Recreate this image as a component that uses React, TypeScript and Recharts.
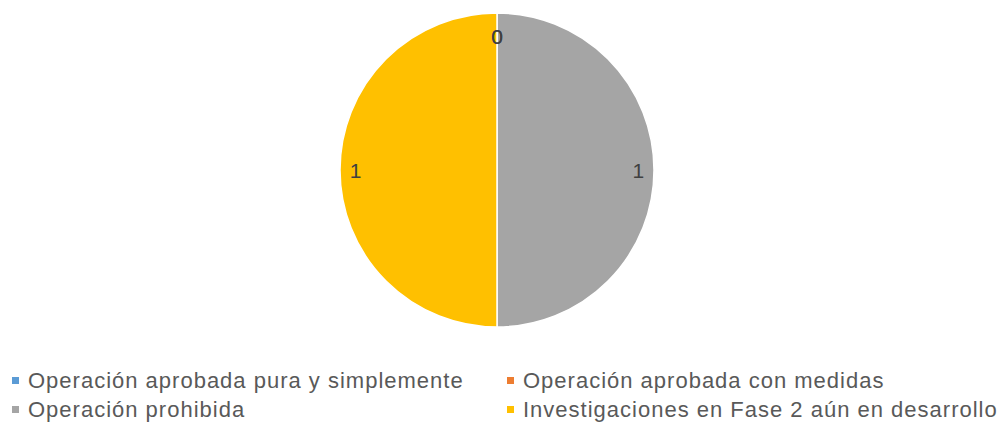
import { PieChart, Pie, Cell, Legend } from "recharts";

const categories = [
  "Operación aprobada pura y simplemente",
  "Operación aprobada con medidas",
  "Operación prohibida",
  "Investigaciones en Fase 2 aún en desarrollo",
];
const values = [0, 0, 1, 1];
const colors = ["#5B9BD5", "#ED7D31", "#A5A5A5", "#FFC000"];

const data = categories.map((name, i) => ({ name, value: values[i] }));

const FONT = "'Liberation Sans', Arial, sans-serif";

function renderLabel(props: any) {
  const { cx, cy, midAngle, outerRadius, value } = props;
  const RAD = Math.PI / 180;
  const r = outerRadius * (value === 0 ? 0.85 : 0.9);
  const x = cx + r * Math.cos(-midAngle * RAD);
  const y = cy + r * Math.sin(-midAngle * RAD);
  return (
    <text x={x} y={y} fill="#404040" fontSize={21} fontFamily={FONT} textAnchor="middle" dominantBaseline="central">
      {value}
    </text>
  );
}

function LegendContent() {
  return (
    <div style={{ display: "grid", gridTemplateColumns: "495px 503px", rowGap: 6, fontFamily: FONT }}>
      {categories.map((c, i) => (
        <div key={c} style={{ display: "flex", alignItems: "center", height: 23, paddingLeft: 12 }}>
          <span style={{ width: 7, height: 7, background: colors[i], marginRight: 9, flexShrink: 0 }} />
          <span style={{ fontSize: 22, color: "#595959", letterSpacing: 1, whiteSpace: "nowrap" }}>{c}</span>
        </div>
      ))}
    </div>
  );
}

export default function App() {
  return (
    <div style={{ position: "absolute", left: 0, top: 0, width: 998, height: 438, background: "#fff" }}>
      <PieChart width={998} height={438} margin={{ top: 0, right: 0, bottom: 0, left: 0 }}>
        <Pie
          data={data}
          dataKey="value"
          nameKey="name"
          cx={497}
          cy={170}
          outerRadius={157}
          startAngle={90}
          endAngle={-270}
          stroke="#fff"
          strokeWidth={1.5}
          label={renderLabel}
          labelLine={false}
          isAnimationActive={false}
        >
          {data.map((d, i) => (
            <Cell key={d.name} fill={colors[i]} />
          ))}
        </Pie>
        <Legend
          content={<LegendContent />}
          wrapperStyle={{ position: "absolute", left: 0, top: 369, width: 998 }}
        />
      </PieChart>
    </div>
  );
}
